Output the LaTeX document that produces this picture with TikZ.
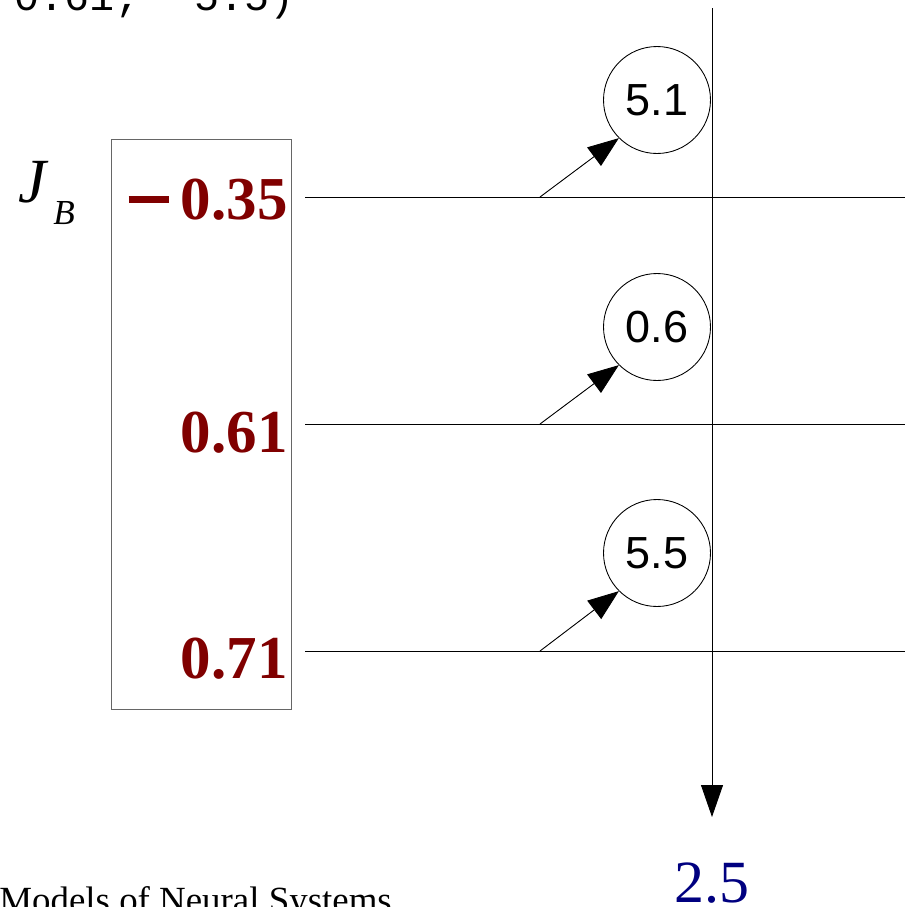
\documentclass[tikz,border=0pt]{standalone}
\usepackage{fontspec}
\setmainfont{Liberation Serif}
\setsansfont{Liberation Sans}
\setmonofont{Liberation Mono}
\usetikzlibrary{arrows.meta, positioning}
\definecolor{bdr}{HTML}{666666}
\definecolor{valRed}{HTML}{800000}
\definecolor{outBlue}{HTML}{000080}
\tikzset{
  % thin connectors and input wires
  wire/.style={draw=black, line width=0.5pt},
  % input activities (bold, dark red)
  val/.style={font=\fontsize{34.7}{36}\selectfont\bfseries, text=valRed,
    inner sep=0pt, anchor=base east},
  % weight circles
  wt/.style={circle, draw=black, line width=0.5pt, minimum size=2.14cm,
    inner sep=0pt, font=\sffamily\fontsize{25.6}{28}\selectfont},
  A/.style={-{Triangle[length=0.62cm,width=0.46cm]}, wire, fill=black},
  Av/.style={-{Triangle[length=0.64cm,width=0.44cm]}, wire, fill=black},
}
% heavy minus sign as in the input column
\newcommand{\heavyminus}{\rule[0.265em]{0.66em}{0.11em}\kern0.2em}

\begin{document}
\begin{tikzpicture}[x=0.02cm, y=-0.02cm]
\clip (0,0) rectangle (905,907);

% ── clipped header / footer text ─────────────────────────────────────
\node[font=\ttfamily\fontsize{23.7}{26}\selectfont, anchor=base west, inner sep=0pt]
  (vec) at (14,10) {0.61;\hspace{1.1cm}5.5)};
\node[font=\fontsize{21}{24}\selectfont, anchor=base west, inner sep=0pt]
  (foot) at (-1,912) {Models of Neural Systems};

% ── input vector J_B ─────────────────────────────────────────────────
\node[draw=bdr, line width=0.5pt, minimum width=3.6cm, minimum height=11.4cm,
      inner sep=0pt, anchor=north west] (vecBox) at (111,139) {};
\node[font=\itshape\fontsize{35.8}{38}\selectfont, anchor=base west, inner sep=0pt]
  (jLbl) at (18,202) {J};
\node[font=\itshape\fontsize{20}{22}\selectfont, anchor=base west, inner sep=0pt]
  (jSub) at (53,224) {B};

\node[val] (v1) at (288,219) {\heavyminus 0.35};
\node[val] (v2) at (288,452) {0.61};
\node[val] (v3) at (288,678) {0.71};

% ── input wires ──────────────────────────────────────────────────────
\coordinate (h1w) at (305,197); \coordinate (h1e) at (905,197);
\coordinate (h2w) at (305,424); \coordinate (h2e) at (905,424);
\coordinate (h3w) at (305,651); \coordinate (h3e) at (905,651);
\draw[wire] (h1w) -- (h1e);
\draw[wire] (h2w) -- (h2e);
\draw[wire] (h3w) -- (h3e);

% ── weights ──────────────────────────────────────────────────────────
\node[wt] (w1) at (657,100) {5.1};
\node[wt] (w2) at (657,327) {0.6};
\node[wt] (w3) at (657,553) {5.5};

\coordinate (s1) at (540,197);
\coordinate (s2) at (540,424);
\coordinate (s3) at (540,651);
\draw[A] (s1) -- (w1.225);
\draw[A] (s2) -- (w2.225);
\draw[A] (s3) -- (w3.225);

% ── output line ──────────────────────────────────────────────────────
\coordinate (vTop) at (712,8);
\coordinate (vBot) at (712,817);
\draw[Av] (vTop) -- (vBot);
\node[font=\fontsize{34.1}{36}\selectfont, text=outBlue, anchor=base, inner sep=0pt]
  (out) at (712,902) {2.5};

\end{tikzpicture}
\end{document}
